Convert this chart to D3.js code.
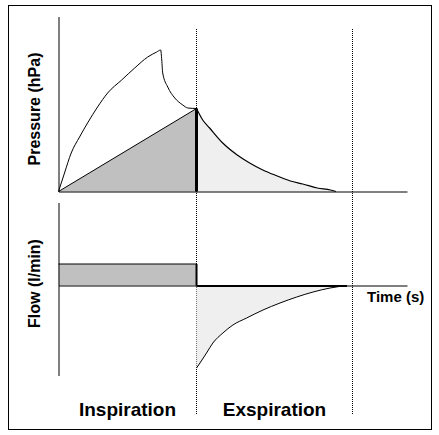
<!DOCTYPE html>
<html>
<head>
<meta charset="utf-8">
<script src="https://cdn.jsdelivr.net/npm/d3@7"></script>
<style>
  html, body { margin: 0; padding: 0; background: #fff; }
  svg { display: block; }
  text { font-family: Arial, "Liberation Sans", Helvetica, sans-serif; font-weight: bold; fill: #000; }
</style>
</head>
<body>
<svg id="chart" width="439" height="435"></svg>
<script>
// ---- Data (time in s, pressure in hPa, flow in l/min; arbitrary units) ----
const airwayTime     = [0, 0.087, 0.184, 0.305, 0.421, 0.566, 0.712, 0.915, 1.104, 1.293, 1.423, 1.481, 1.496, 1.510, 1.583, 1.685, 1.801, 1.874, 2.0];
const airwayPressure = [0, 3.7, 7.7, 10.9, 13.7, 16.9, 19.7, 22.3, 24.7, 26.9, 27.9, 28.3, 26.3, 23.7, 20.9, 18.7, 17.3, 16.7, 16.6];

const alveolarTime     = [0, 2.0];
const alveolarPressure = [0, 16.6];

const expTime     = [2.0, 2.09, 2.19, 2.38, 2.59, 2.77, 2.96, 3.17, 3.36, 3.54, 3.75, 3.94, 4.02];
const expPressure = [16.6, 14.3, 12.7, 9.7, 7.3, 5.7, 4.3, 3.1, 2.1, 1.5, 0.7, 0.3, 0.0];

const flowInspTime  = [0, 2.0];
const flowInspValue = [4.3, 4.3];

const flowExpTime  = [2.0, 2.05, 2.145, 2.237, 2.382, 2.527, 2.726, 2.963, 3.21, 3.452, 3.689, 3.936, 4.179];
const flowExpValue = [-16.5, -15.5, -13.5, -11.5, -9.5, -7.9, -6.5, -4.9, -3.5, -2.3, -1.3, -0.5, 0.0];

const phaseBounds = [2.0, 4.26];
const phaseLabels = ["Inspiration", "Exspiration"];
const phaseCenters = [1.0, 3.13];
const pressureLabel = "Pressure (hPa)";
const flowLabel = "Flow (l/min)";
const timeLabel = "Time (s)";

// ---- Layout ----
const svg = d3.select("#chart");

const x = d3.scaleLinear().domain([0, 5.05]).range([58.5, 407]);
const yP = d3.scaleLinear().domain([0, 35]).range([191.5, 16.5]);
const yF = d3.scaleLinear().domain([-18, 16.6]).range([375.5, 202.5]);

const pts = (xs, ys) => xs.map((t, i) => [t, ys[i]]);

// frame
svg.append("rect").attr("x", 8.5).attr("y", 5.5).attr("width", 423).attr("height", 424)
  .attr("fill", "#fff").attr("stroke", "#000").attr("stroke-width", 1);

// ---- Pressure panel ----
// inspiration area (alveolar triangle)
const alvPts = pts(alveolarTime, alveolarPressure);
svg.append("path")
  .datum(alvPts)
  .attr("d", d3.area().x(d => x(d[0])).y0(yP(0)).y1(d => yP(d[1])))
  .attr("fill", "#c0c0c0");
// expiration area
const expPts = pts(expTime, expPressure);
svg.append("path")
  .datum(expPts)
  .attr("d", d3.area().x(d => x(d[0])).y0(yP(0)).y1(d => yP(d[1])).curve(d3.curveMonotoneX))
  .attr("fill", "#efefef");

// dotted phase guides
svg.selectAll("line.guide").data(phaseBounds).join("line")
  .attr("class", "guide")
  .attr("x1", d => Math.round(x(d) - 0.5) + 0.5).attr("x2", d => Math.round(x(d) - 0.5) + 0.5)
  .attr("y1", 29).attr("y2", 415)
  .attr("stroke", "#000").attr("stroke-width", 1).attr("stroke-dasharray", "1,1");

// axes
const yAxisP = d3.axisLeft(yP).ticks(0).tickSizeOuter(0);
svg.append("g").attr("transform", `translate(${x(0)},0)`).call(yAxisP)
  .call(g => g.select(".domain").attr("stroke", "#000"));
const xAxisP = d3.axisBottom(x).ticks(0).tickSizeOuter(0);
svg.append("g").attr("transform", `translate(0,${yP(0)})`).call(xAxisP)
  .call(g => g.select(".domain").attr("stroke", "#000"));

// lines
const line = (ys) => d3.line().x(d => x(d[0])).y(d => ys(d[1]));
svg.append("path").datum(alvPts).attr("d", line(yP))
  .attr("fill", "none").attr("stroke", "#000").attr("stroke-width", 1);
svg.append("path").datum(pts(airwayTime, airwayPressure)).attr("d", line(yP).curve(d3.curveMonotoneX))
  .attr("fill", "none").attr("stroke", "#000").attr("stroke-width", 1);
svg.append("path").datum(expPts).attr("d", line(yP).curve(d3.curveMonotoneX))
  .attr("fill", "none").attr("stroke", "#000").attr("stroke-width", 1.2);
// thick end-inspiration line
svg.append("line")
  .attr("x1", x(alveolarTime[1])).attr("x2", x(alveolarTime[1]))
  .attr("y1", yP(alveolarPressure[1])).attr("y2", yP(0))
  .attr("stroke", "#000").attr("stroke-width", 3);

// ---- Flow panel ----
const fInsp = pts(flowInspTime, flowInspValue);
svg.append("path").datum(fInsp)
  .attr("d", d3.area().x(d => x(d[0])).y0(yF(0)).y1(d => yF(d[1])))
  .attr("fill", "#c0c0c0");
svg.append("path").datum(fInsp).attr("d", line(yF))
  .attr("fill", "none").attr("stroke", "#000").attr("stroke-width", 1);

const fExp = pts(flowExpTime, flowExpValue);
svg.append("path").datum(fExp)
  .attr("d", d3.area().x(d => x(d[0])).y0(yF(0)).y1(d => yF(d[1])).curve(d3.curveMonotoneX))
  .attr("fill", "#efefef");

const yAxisF = d3.axisLeft(yF).ticks(0).tickSizeOuter(0);
svg.append("g").attr("transform", `translate(${x(0)},0)`).call(yAxisF)
  .call(g => g.select(".domain").attr("stroke", "#000"));
const xAxisF = d3.axisBottom(x).ticks(0).tickSizeOuter(0);
svg.append("g").attr("transform", `translate(0,${yF(0)})`).call(xAxisF)
  .call(g => g.select(".domain").attr("stroke", "#000"));

svg.append("path").datum(fExp).attr("d", line(yF).curve(d3.curveMonotoneX))
  .attr("fill", "none").attr("stroke", "#000").attr("stroke-width", 1);
// thicker zero line under expiration
svg.append("line")
  .attr("x1", x(flowExpTime[0])).attr("x2", x(flowExpTime[flowExpTime.length - 1]))
  .attr("y1", yF(0) + 0.5).attr("y2", yF(0) + 0.5)
  .attr("stroke", "#000").attr("stroke-width", 2);
// end-inspiration vertical
svg.append("line")
  .attr("x1", x(flowInspTime[1])).attr("x2", x(flowInspTime[1]))
  .attr("y1", yF(flowInspValue[1])).attr("y2", yF(0))
  .attr("stroke", "#000").attr("stroke-width", 2);

// ---- Text ----
svg.append("text").attr("transform", `translate(40,109) rotate(-90)`)
  .attr("text-anchor", "middle").style("font-size", "16px").text(pressureLabel);
svg.append("text").attr("transform", `translate(40,283.5) rotate(-90)`)
  .attr("text-anchor", "middle").style("font-size", "16px").text(flowLabel);
svg.append("text").attr("x", 367).attr("y", 302)
  .style("font-size", "15px").text(timeLabel);
svg.selectAll("text.phase").data(phaseLabels).join("text")
  .attr("class", "phase")
  .attr("x", (d, i) => x(phaseCenters[i])).attr("y", 416)
  .attr("text-anchor", "middle").style("font-size", "19px").text(d => d);
</script>
</body>
</html>
